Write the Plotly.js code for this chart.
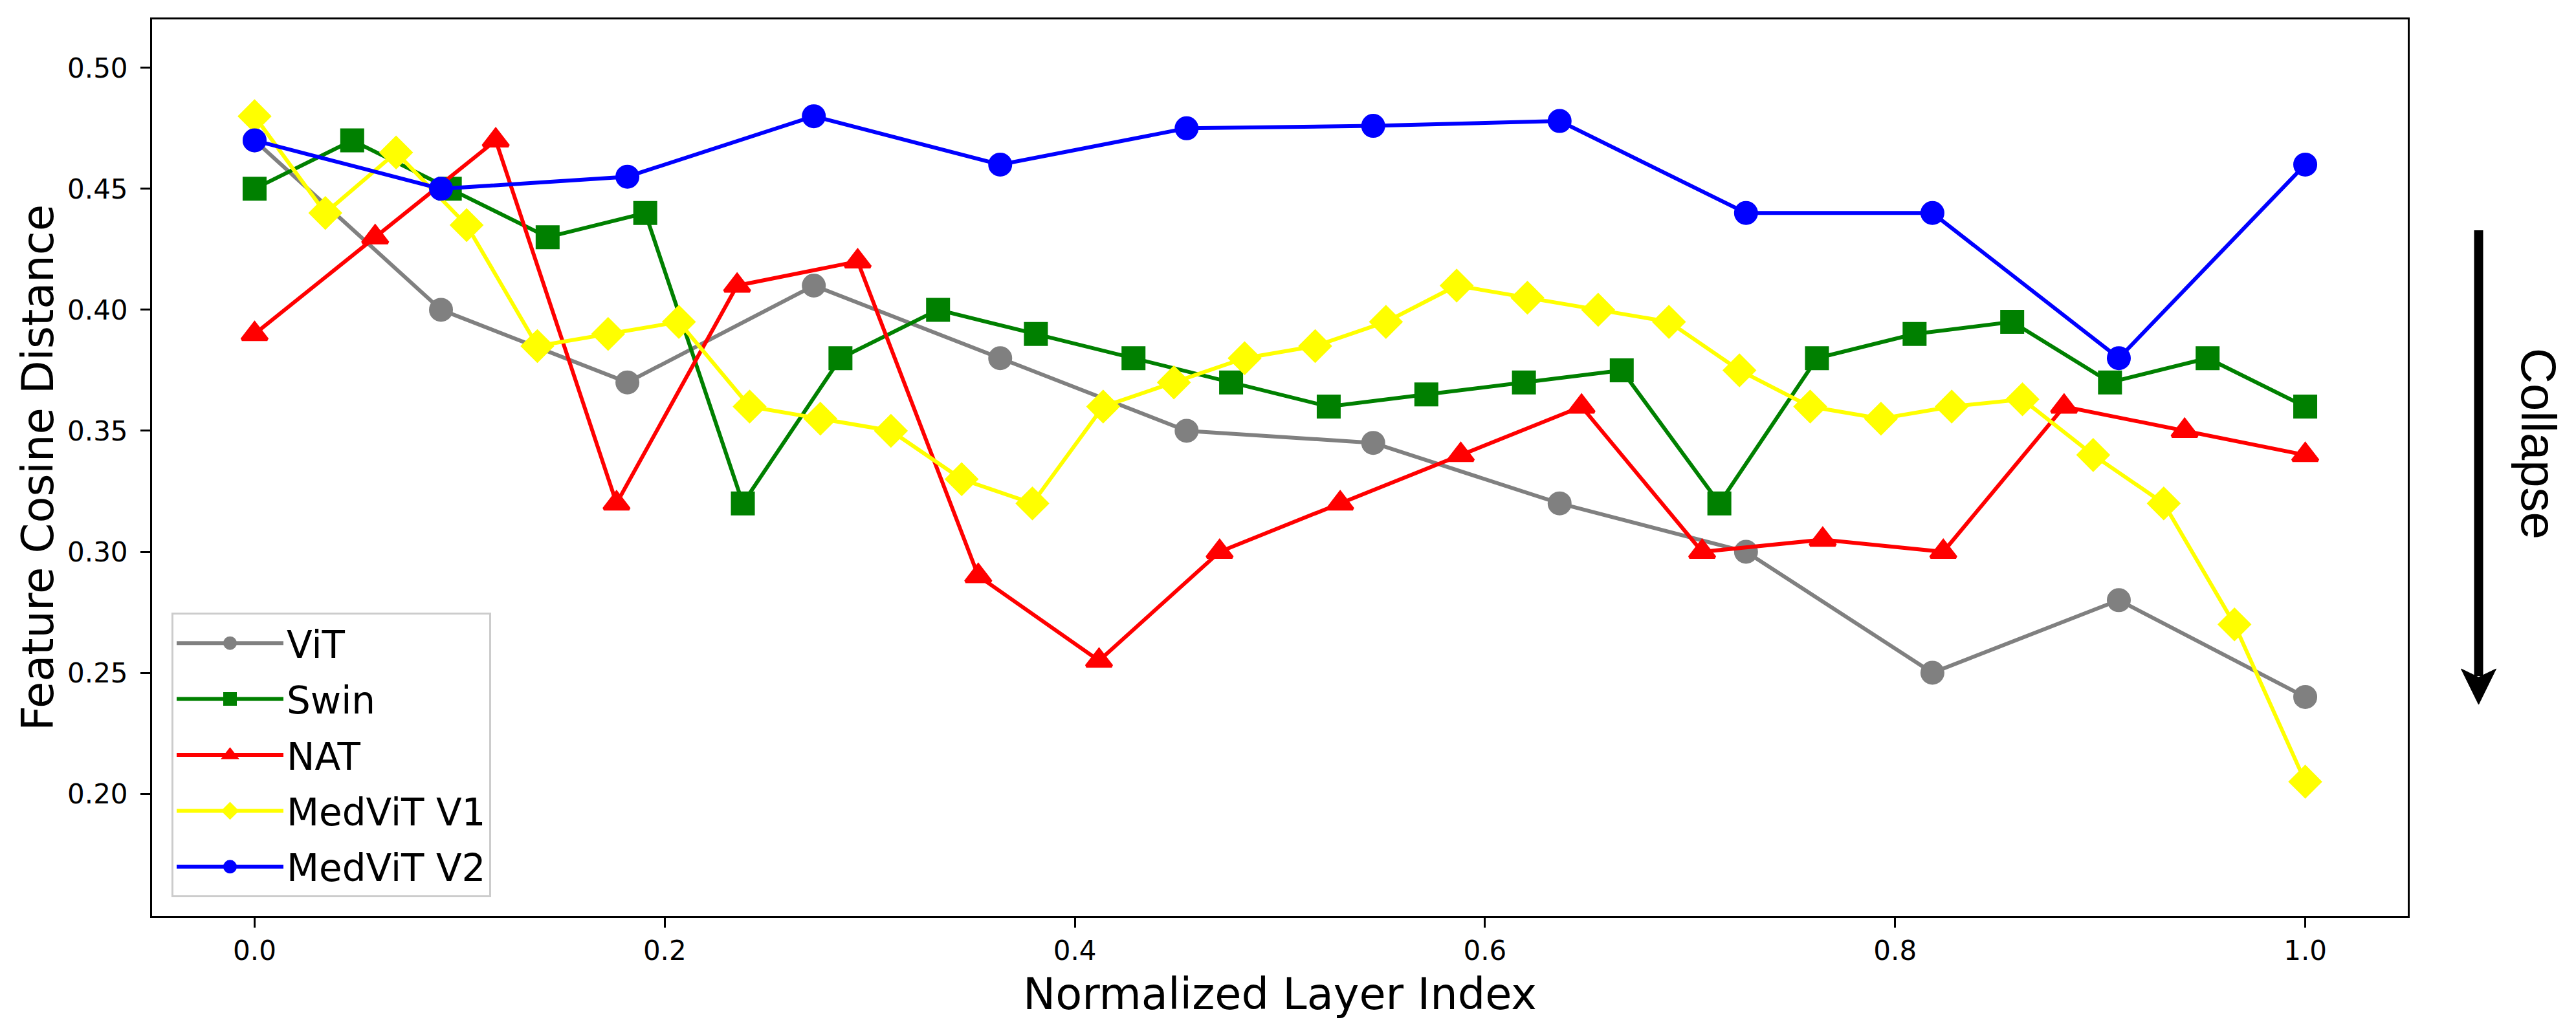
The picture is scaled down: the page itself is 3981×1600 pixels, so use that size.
<!DOCTYPE html>
<html>
<head>
<meta charset="utf-8">
<script src="https://cdn.plot.ly/plotly-3.0.1.min.js"></script>
<style>html,body{margin:0;padding:0;background:#fff;}#chart{width:3981px;height:1600px;}</style>
</head>
<body>
<div id="chart"></div>
<script>
// ---- data ----
const seriesNames = ["ViT", "Swin", "NAT", "MedViT V1", "MedViT V2"];

const vitX   = [0, 0.0909, 0.1818, 0.2727, 0.3636, 0.4545, 0.5455, 0.6364, 0.7273, 0.8182, 0.9091, 1.0];
const vitY   = [0.47, 0.40, 0.37, 0.41, 0.38, 0.35, 0.345, 0.32, 0.30, 0.25, 0.28, 0.24];

const swinX  = [0, 0.0476, 0.0952, 0.1429, 0.1905, 0.2381, 0.2857, 0.3333, 0.3810, 0.4286, 0.4762,
                0.5238, 0.5714, 0.6190, 0.6667, 0.7143, 0.7619, 0.8095, 0.8571, 0.9048, 0.9524, 1.0];
const swinY  = [0.45, 0.47, 0.45, 0.43, 0.44, 0.32, 0.38, 0.40, 0.39, 0.38, 0.37,
                0.36, 0.365, 0.37, 0.375, 0.32, 0.38, 0.39, 0.395, 0.37, 0.38, 0.36];

const natX   = [0, 0.0588, 0.1176, 0.1765, 0.2353, 0.2941, 0.3529, 0.4118, 0.4706,
                0.5294, 0.5882, 0.6471, 0.7059, 0.7647, 0.8235, 0.8824, 0.9412, 1.0];
const natY   = [0.39, 0.43, 0.47, 0.32, 0.41, 0.42, 0.29, 0.255, 0.30,
                0.32, 0.34, 0.36, 0.30, 0.305, 0.30, 0.36, 0.35, 0.34];

const v1X    = [0, 0.0345, 0.0690, 0.1034, 0.1379, 0.1724, 0.2069, 0.2414, 0.2759, 0.3103,
                0.3448, 0.3793, 0.4138, 0.4483, 0.4828, 0.5172, 0.5517, 0.5862, 0.6207, 0.6552,
                0.6897, 0.7241, 0.7586, 0.7931, 0.8276, 0.8621, 0.8966, 0.9310, 0.9655, 1.0];
const v1Y    = [0.48, 0.44, 0.465, 0.435, 0.385, 0.39, 0.395, 0.36, 0.355, 0.35,
                0.33, 0.32, 0.36, 0.37, 0.38, 0.385, 0.395, 0.41, 0.405, 0.40,
                0.395, 0.375, 0.36, 0.355, 0.36, 0.363, 0.34, 0.32, 0.27, 0.205];

const v2X    = [0, 0.0909, 0.1818, 0.2727, 0.3636, 0.4545, 0.5455, 0.6364, 0.7273, 0.8182, 0.9091, 1.0];
const v2Y    = [0.47, 0.45, 0.455, 0.48, 0.46, 0.475, 0.476, 0.478, 0.44, 0.44, 0.38, 0.46];

const xTickVals = [0, 0.2, 0.4, 0.6, 0.8, 1.0];
const xTickText = ["0.0", "0.2", "0.4", "0.6", "0.8", "1.0"];
const yTickVals = [0.20, 0.25, 0.30, 0.35, 0.40, 0.45, 0.50];
const yTickText = ["0.20", "0.25", "0.30", "0.35", "0.40", "0.45", "0.50"];

// ---- styles ----
const colors  = ["gray", "green", "red", "yellow", "blue"];
const symbols = ["circle", "square", "triangle-up", "diamond", "circle"];
const msizes  = [32, 32, 34, 35, 32];
const xs = [vitX, swinX, natX, v1X, v2X];
const ys = [vitY, swinY, natY, v1Y, v2Y];

const traces = seriesNames.map((name, i) => ({
  type: "scatter",
  mode: "lines+markers",
  name: name,
  legendgroup: "g" + i,
  x: xs[i],
  y: ys[i],
  line: {color: colors[i], width: 6},
  marker: {symbol: symbols[i], size: msizes[i], color: colors[i],
           line: {color: colors[i], width: 5}}
}));

const FONT = "DejaVu Sans";
// plot area in pixels: left 235, right 3721, top 30, bottom 1416
const L = 235, R = 3721, T = 30, B = 1416;
const px = v => (v - L) / (R - L);
const py = v => (B - v) / (B - T);

const arrowX = 3830.5;
const layout = {
  width: 3981, height: 1600,
  margin: {l: L, r: 3981 - R, t: T, b: 1600 - B, pad: 0},
  paper_bgcolor: "white", plot_bgcolor: "white",
  showlegend: true,
  font: {family: FONT, color: "black"},
  xaxis: {
    range: [-0.05, 1.05],
    tickmode: "array", tickvals: xTickVals, ticktext: xTickText,
    ticks: "outside", ticklen: 15, tickwidth: 3, tickcolor: "black",
    showline: true, linewidth: 3, linecolor: "black", mirror: true,
    showgrid: false, zeroline: false,
    tickfont: {family: FONT, size: 42, color: "black"},
    title: {text: "Normalized Layer Index", font: {family: FONT, size: 67, color: "black"}, standoff: 20}
  },
  yaxis: {
    range: [0.1495, 0.52],
    tickmode: "array", tickvals: yTickVals, ticktext: yTickText,
    ticks: "outside", ticklen: 15, tickwidth: 3, tickcolor: "black",
    ticklabelstandoff: 11,
    showline: true, linewidth: 3, linecolor: "black", mirror: true,
    showgrid: false, zeroline: false,
    tickfont: {family: FONT, size: 42, color: "black"},
    title: {text: "Feature Cosine Distance", font: {family: FONT, size: 67, color: "black"}, standoff: 0}
  },
  legend: {
    x: px(265), y: py(1387), xanchor: "left", yanchor: "bottom",
    bgcolor: "rgba(255,255,255,0.8)", bordercolor: "#cccccc", borderwidth: 3,
    font: {family: FONT, size: 58, color: "black"},
    itemwidth: 165, tracegroupgap: 8
  },
  shapes: [
    {type: "line", xref: "paper", yref: "paper",
     x0: px(arrowX), x1: px(arrowX), y0: py(356), y1: py(1045),
     line: {color: "black", width: 14}},
    {type: "path", xref: "paper", yref: "paper",
     path: "M " + px(arrowX) + "," + py(1089) +
           " L " + px(arrowX - 27) + "," + py(1034) +
           " L " + px(arrowX) + "," + py(1047) +
           " L " + px(arrowX + 27) + "," + py(1034) + " Z",
     fillcolor: "black", line: {color: "black", width: 1}}
  ],
  annotations: [
    {text: "Collapse", xref: "paper", yref: "paper", x: px(3924), y: py(686),
     xanchor: "center", yanchor: "middle", showarrow: false, textangle: 90,
     font: {family: "Liberation Sans", size: 76, color: "black"}}
  ]
};

Plotly.newPlot("chart", traces, layout, {staticPlot: true, displayModeBar: false});
</script>
</body>
</html>
